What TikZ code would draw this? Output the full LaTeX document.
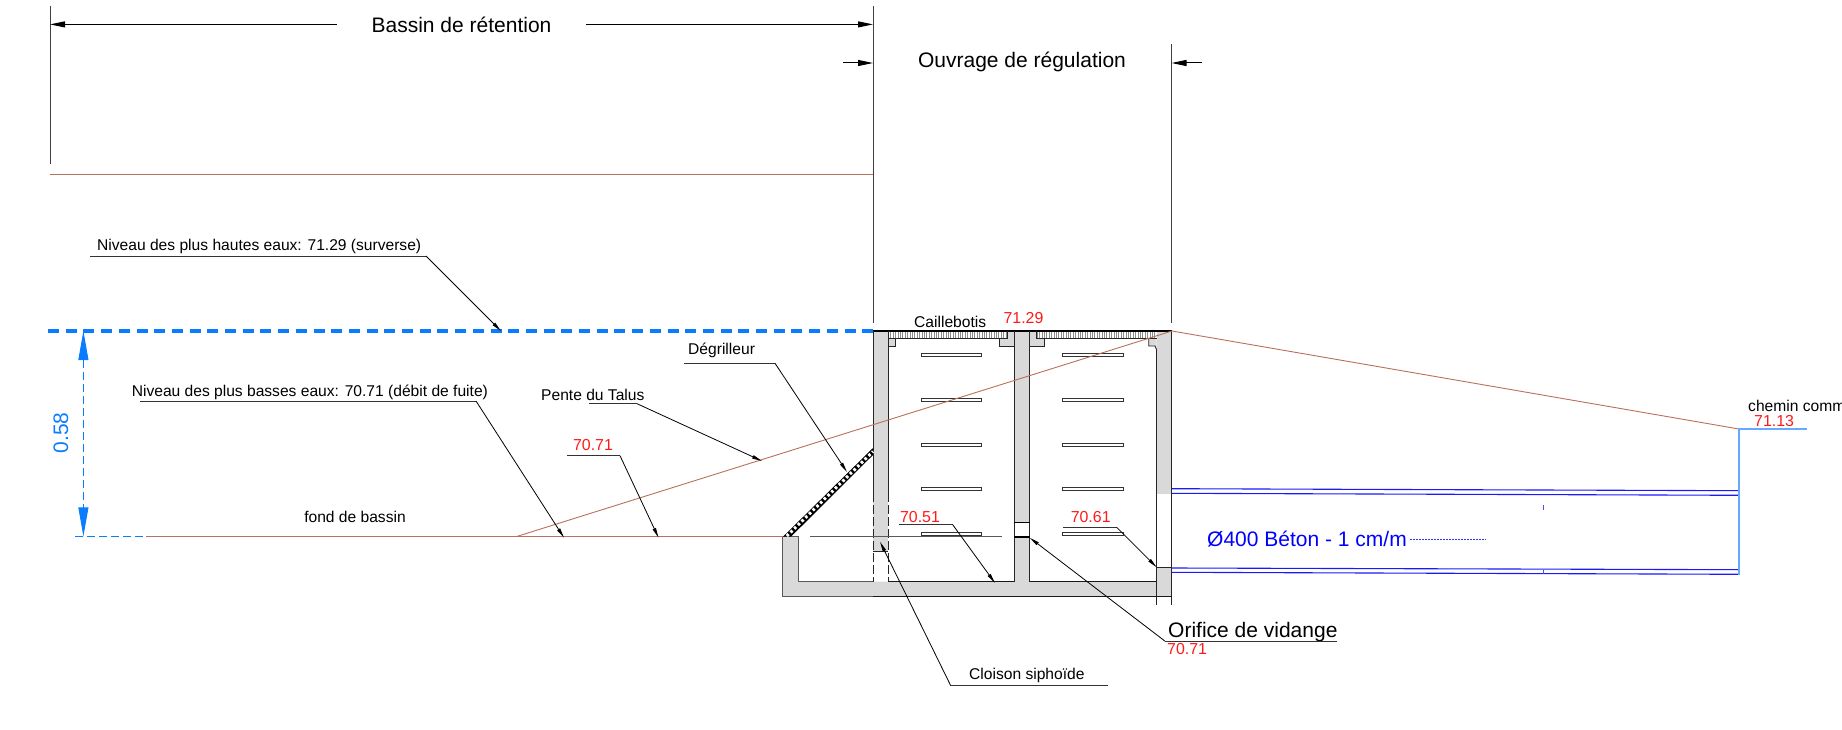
\documentclass[tikz,border=0pt]{standalone}
\usepackage{fontspec}
\setmainfont{Liberation Sans}
\usepackage{xcolor}
\usepackage{tikz}
\usetikzlibrary{arrows.meta}
\definecolor{wallgray}{HTML}{D9D9D9}
\definecolor{talus}{HTML}{B9705A}
\definecolor{levelblue}{HTML}{0A7CFF}
\definecolor{lightpipe}{HTML}{66AAFF}
\definecolor{markred}{HTML}{FF1A1A}

\begin{document}
\begin{tikzpicture}[
  x=1pt,y=-1pt,
  bigtxt/.style={inner sep=0pt,font=\fontsize{21}{21}\selectfont},
  midtxt/.style={inner sep=0pt,font=\fontsize{15.6}{16}\selectfont},
  redtxt/.style={inner sep=0pt,text=markred,font=\fontsize{15.9}{16}\selectfont},
  dimline/.style={line width=0.8pt,black!75},
  dimarr/.style={line width=1pt,-{Stealth[length=15pt,width=6pt,inset=0pt]}},
  ldr/.style={line width=0.8pt,-{Stealth[length=10pt,width=3.4pt,inset=0pt]}},
  under/.style={line width=1pt,black!80},
  ground/.style={line width=0.9pt,talus},
  wall/.style={line width=0.9pt,black!85},
  plate/.style={line width=0.9pt,black!80,fill=white},
  pipe/.style={line width=1.1pt,blue!90!white},
  hatchbar/.style={line width=7pt,black!45,dash pattern=on 0.8pt off 1.6pt}
]
\useasboundingbox (0,0) rectangle (1842,730);

\coordinate (extL) at (50,6);
\coordinate (extLb) at (50,164);
\coordinate (extM) at (873,6);
\coordinate (extMb) at (873,323);
\coordinate (extR) at (1171.5,44);
\coordinate (extRb) at (1171.5,323);
\coordinate (bassinA) at (336.6,24.4);
\coordinate (bassinL) at (50,24.4);
\coordinate (bassinB) at (586,24.4);
\coordinate (bassinR) at (873,24.4);
\coordinate (ouvrageA) at (843,63);
\coordinate (ouvrageL) at (873,63);
\coordinate (ouvrageB) at (1202,63);
\coordinate (ouvrageR) at (1171.5,63);
\draw[dimline] (extL) -- (extLb);
\draw[dimline] (extM) -- (extMb);
\draw[dimline] (extR) -- (extRb);
\draw[dimarr] (bassinA) -- (bassinL);
\draw[dimarr] (bassinB) -- (bassinR);
\draw[dimarr] (ouvrageA) -- (ouvrageL);
\draw[dimarr] (ouvrageB) -- (ouvrageR);
\node[bigtxt] (bassin) at (461.5,25) {Bassin de rétention};
\node[bigtxt] (ouvrage) at (1022,62) {Ouvrage de régulation};

\coordinate (topL) at (50,174);
\coordinate (topR) at (873,174);
\coordinate (foot) at (517,536.4);
\coordinate (crest) at (1172,331);
\coordinate (chemin) at (1739,429);
\coordinate (baseA) at (146,536.4);
\coordinate (baseB) at (783,536.4);
\draw[ground] (topL) -- (topR);
\draw[ground] (baseA) -- (baseB);

\coordinate (nivA) at (48,331);
\coordinate (nivB) at (873,331);
\coordinate (cotA) at (83.4,331);
\coordinate (cotB) at (83.4,536.4);
\coordinate (cotC) at (75,536.4);
\draw[line width=3.6pt,levelblue,dash pattern=on 11pt off 6.7pt] (nivA) -- (nivB);
\draw[line width=0.9pt,levelblue,dashed,dash pattern=on 8pt off 4pt,{Stealth[length=29pt,width=10pt,inset=0pt]}-{Stealth[length=29pt,width=10pt,inset=0pt]}] (cotA) -- (cotB);
\draw[line width=0.9pt,levelblue,dash pattern=on 8pt off 4pt] (cotC) -- (baseA);
\node[bigtxt,text=levelblue,rotate=90] (cote) at (61,433) {0.58};

\fill[wallgray] (873,331) rectangle (888,552);
\fill[wallgray] (888,338) -- (895.3,338) -- (895.3,346) -- (888,346) -- cycle;
\fill[wallgray] (1014.3,331) rectangle (1029.7,522);
\fill[wallgray] (1007.3,331) -- (1036.7,331) -- (1036.7,338) -- (1044.7,338) -- (1044.7,346) -- (999.3,346) -- (999.3,338) -- (1007.3,338) -- cycle;
\fill[wallgray] (1014.3,537) rectangle (1029.7,582);
\fill[wallgray] (1156.7,331) rectangle (1171.7,493.7);
\fill[wallgray] (1148.7,338) -- (1156.7,338) -- (1156.7,350) -- (1155,346) -- (1148.7,346) -- cycle;
\fill[wallgray] (1156.7,567.3) rectangle (1171.7,596.7);
\fill[wallgray] (782.7,536.7) -- (798,536.7) -- (798,581.7) -- (1171.7,581.7) -- (1171.7,596.7) -- (782.7,596.7) -- cycle;

\draw[hatchbar] (888,334.6) -- (1007.3,334.6);
\draw[hatchbar] (1036.7,334.6) -- (1156.7,334.6);
\draw[line width=1.4pt,black] (873,331) -- (1172,331);
\draw[wall] (888,338) -- (1007.3,338) -- (1007.3,331);
\draw[wall] (1036.7,331) -- (1036.7,338) -- (1156.7,338);
\draw[wall] (888,346) -- (895.3,346) -- (895.3,338);
\draw[wall] (1014.3,346) -- (999.3,346) -- (999.3,338);
\draw[wall] (1029.7,346) -- (1044.7,346) -- (1044.7,338);
\draw[wall] (1148.7,338) -- (1148.7,346) -- (1155,346) -- (1156.7,350);

\draw[wall] (873,331) -- (873,493);
\draw[wall] (888,331) -- (888,493);
\draw[wall,dashed,dash pattern=on 9pt off 3pt] (873,493) -- (873,581.7);
\draw[wall,dashed,dash pattern=on 9pt off 3pt] (888,493) -- (888,581.7);
\draw[wall] (873,551.7) -- (888,551.7);
\draw[wall] (1014.3,331) -- (1014.3,581.7);
\draw[wall] (1029.7,331) -- (1029.7,581.7);
\draw[line width=1pt,black] (1014.3,522) -- (1029.7,522);
\draw[line width=1.6pt,black] (1014.3,537.2) -- (1029.7,537.2);
\draw[wall] (1156.7,350) -- (1156.7,605);
\draw[wall] (1171.7,331) -- (1171.7,605);
\draw[wall] (1156.7,567.3) -- (1171.7,567.3);
\draw[line width=0.9pt,black!65] (782.7,536.7) -- (798,536.7) -- (798,581.7) -- (873,581.7);
\draw[line width=0.9pt,black!65] (782.7,536.7) -- (782.7,596.7) -- (873,596.7);
\draw[line width=1.3pt,black!90] (888,581.7) -- (1014.3,581.7);
\draw[line width=1.3pt,black!90] (1029.7,581.7) -- (1156.7,581.7);
\draw[line width=1.3pt,black!90] (873,596.7) -- (1171.7,596.7);

\fill[black] (783,536.7) -- (791,536.7) -- (873,455) -- (873,448) -- cycle;
\draw[white,line width=3pt,dash pattern=on 2.6pt off 2.6pt] (786.8,536) -- (873,451.5);

\draw[plate] (921,353.7) rectangle (981,356.7);
\draw[plate] (921,398) rectangle (981,401);
\draw[plate] (921,443) rectangle (981,446);
\draw[plate] (921,487.8) rectangle (981,490.8);
\draw[plate] (921,532.5) rectangle (981,535.5);
\draw[plate] (1062.7,353.7) rectangle (1123,356.7);
\draw[plate] (1062.7,398) rectangle (1123,401);
\draw[plate] (1062.7,443) rectangle (1123,446);
\draw[plate] (1062.7,487.8) rectangle (1123,490.8);
\draw[plate] (1062.7,532.5) rectangle (1123,535.5);
\draw[line width=0.9pt,black!65] (810,536.9) -- (1001.7,536.9);

\draw[ground] (foot) -- (crest);
\draw[ground] (crest) -- (chemin);

\coordinate (pipeAa) at (1172,488.7);
\coordinate (pipeAb) at (1739,490.7);
\coordinate (pipeBa) at (1172,493.3);
\coordinate (pipeBb) at (1739,495.3);
\coordinate (pipeCa) at (1172,568);
\coordinate (pipeCb) at (1739,569.7);
\coordinate (pipeDa) at (1172,572.3);
\coordinate (pipeDb) at (1739,574.3);
\draw[pipe] (pipeAa) -- (pipeAb);
\draw[pipe] (pipeBa) -- (pipeBb);
\draw[pipe] (pipeCa) -- (pipeCb);
\draw[pipe] (pipeDa) -- (pipeDb);
\draw[line width=0.8pt,blue!70!white] (1543,505) -- (1543,510);
\draw[line width=0.8pt,blue!70!white] (1543,570) -- (1543,574);
\coordinate (cheminB) at (1807,429);
\coordinate (cheminC) at (1739,575);
\draw[line width=1.3pt,lightpipe] (cheminB) -- (chemin) -- (cheminC);
\draw[line width=1pt,blue!80!white,dash pattern=on 2pt off 1pt] (1410,539) -- (1486,539);
\node[inner sep=0pt,anchor=west,text=blue,font=\fontsize{21}{22}\selectfont] (tuyau) at (1207,539) {Ø400 Béton - 1 cm/m};

\node[midtxt,anchor=west] (hautes) at (97,246.7) {Niveau des plus hautes eaux: 71.29 (surverse)};
\coordinate (hautesA) at (90,256);
\coordinate (hautesB) at (426,256);
\coordinate (hautesC) at (501,331);
\draw[under] (hautesA) -- (hautesB);
\draw[ldr] (hautesB) -- (hautesC);

\node[midtxt,anchor=west] (basses) at (131.6,392) {Niveau des plus basses eaux: 70.71 (débit de fuite)};
\coordinate (bassesA) at (140,401);
\coordinate (bassesB) at (476,401);
\coordinate (bassesC) at (564,537.7);
\draw[under] (bassesA) -- (bassesB);
\draw[ldr] (bassesB) -- (bassesC);

\node[midtxt,anchor=west] (pente) at (541,394.5) {Pente du Talus};
\coordinate (penteA) at (588.6,403.7);
\coordinate (penteB) at (637,403.7);
\coordinate (penteC) at (762,461);
\draw[under] (penteA) -- (penteB);
\draw[ldr] (penteB) -- (penteC);

\node[redtxt] (cotefond) at (593,445) {70.71};
\coordinate (fondA) at (567,455.7);
\coordinate (fondB) at (620,455.7);
\coordinate (fondC) at (658.5,537.7);
\draw[under] (fondA) -- (fondB);
\draw[ldr] (fondB) -- (fondC);

\node[midtxt] (fond) at (355,516.7) {fond de bassin};

\node[midtxt,anchor=west] (degrilleur) at (688,350.5) {Dégrilleur};
\coordinate (degrA) at (684,363.3);
\coordinate (degrB) at (775,363.3);
\coordinate (degrC) at (847,472);
\draw[under] (degrA) -- (degrB);
\draw[ldr] (degrB) -- (degrC);

\node[midtxt,anchor=west] (caillebotis) at (914,321.7) {Caillebotis};
\node[redtxt] (cotecrete) at (1023.5,318) {71.29};

\node[redtxt] (cotea) at (920,516.7) {70.51};
\coordinate (coteaA) at (899,524.7);
\coordinate (coteaB) at (952.7,524.7);
\coordinate (coteaC) at (995,583);
\draw[under] (coteaA) -- (coteaB);
\draw[ldr] (coteaB) -- (coteaC);

\node[redtxt] (coteb) at (1090.7,516.7) {70.61};
\coordinate (cotebA) at (1063.3,527.3);
\coordinate (cotebB) at (1116.7,527.3);
\coordinate (cotebC) at (1156.7,567.3);
\draw[under] (cotebA) -- (cotebB);
\draw[ldr] (cotebB) -- (cotebC);

\node[bigtxt,anchor=west] (orifice) at (1168,631.7) {Orifice de vidange};
\node[redtxt,anchor=west] (coteorifice) at (1167,649) {70.71};
\coordinate (orificeA) at (1337,641);
\coordinate (orificeB) at (1164.8,641);
\coordinate (orificeC) at (1029.7,537.7);
\draw[under] (orificeA) -- (orificeB);
\draw[ldr] (orificeB) -- (orificeC);

\node[midtxt,anchor=west] (cloison) at (969,675.5) {Cloison siphoïde};
\coordinate (cloisonA) at (1107.8,685);
\coordinate (cloisonB) at (950.4,685);
\coordinate (cloisonC) at (880,541.7);
\draw[under] (cloisonA) -- (cloisonB);
\draw[ldr] (cloisonB) -- (cloisonC);

\node[midtxt,anchor=west] (cheminlbl) at (1748,406) {chemin comm};
\node[redtxt,anchor=west] (cotechemin) at (1754,421) {71.13};

\end{tikzpicture}
\end{document}
